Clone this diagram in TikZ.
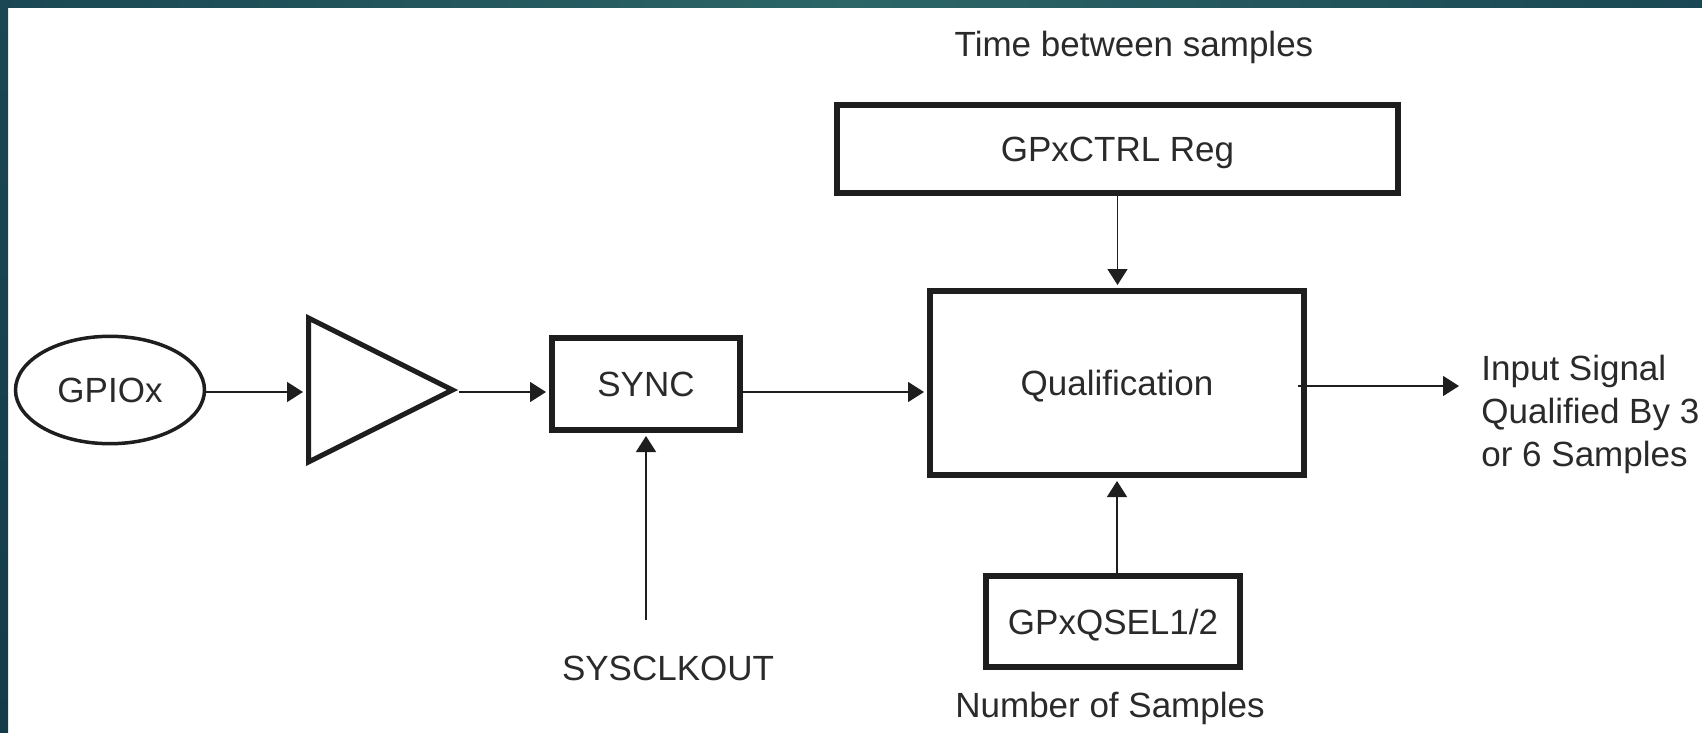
\documentclass[tikz,border=0pt]{standalone}
\usepackage{fontspec}
\setmainfont{Liberation Sans}
\usetikzlibrary{arrows.meta,shapes.geometric}
\definecolor{ink}{HTML}{1E1E1E}
\definecolor{txt}{HTML}{2A2A2A}
\definecolor{frameA}{HTML}{1A4753}
\definecolor{frameB}{HTML}{2C6667}
\definecolor{frameC}{HTML}{143B48}

\begin{document}
\begin{tikzpicture}[x=0.5pt,y=-0.5pt,
  font=\fontsize{17.5}{21.5}\selectfont,
  every node/.style={text=txt},
  blk/.style={draw=ink, line width=3pt, rectangle, inner sep=0pt,
              text height=12.5pt, text depth=0pt},
  sig/.style={draw=ink, line width=0.75pt, shorten >=1.5pt,
              -{Triangle[length=8pt,width=10pt]}},
  lbl/.style={inner sep=0pt, anchor=base}
]
% page and frame
\fill[white] (0,0) rectangle (1702,733);
\useasboundingbox (0,0) rectangle (1702,733);
\shade[left color=frameA, right color=frameA, middle color=frameB] (0,0) rectangle (1702,8);
\shade[top color=frameA, bottom color=frameC] (0,0) rectangle (8,733);

% blocks
\node[draw=ink, line width=1.75pt, ellipse, minimum width=94.5pt, minimum height=53.7pt,
      inner sep=0pt, text height=12.5pt, text depth=0pt] (gpio) at (110,390) {GPIOx};
\node[draw=ink, line width=2.5pt, isosceles triangle, isosceles triangle stretches,
      minimum width=72pt, minimum height=72pt, inner sep=0pt, anchor=west] (amp) at (306,390) {};
\node[blk, minimum width=94pt, minimum height=46pt] (sync) at (646,384) {SYNC};
\node[blk, minimum width=187pt, minimum height=92pt] (qual) at (1117,383) {Qualification};
\node[blk, minimum width=280.5pt, minimum height=44pt] (ctrl) at (1117.5,149) {GPxCTRL Reg};
\node[blk, minimum width=127pt, minimum height=45.5pt] (qsel) at (1113,621.5) {GPxQSEL1/2};

% labels
\node[lbl] (tbs) at (1134,57) {Time between samples};
\node[lbl] (nos) at (1110,717) {Number of Samples};
\node[lbl] (clk) at (668,680) {SYSCLKOUT};
\node[anchor=west, align=left, inner xsep=9.5pt, inner ysep=0pt] (out) at (1462,414)
  {Input Signal\\Qualified By 3\\or 6 Samples};

% signal path
\coordinate (bus) at (0,392);
\draw[sig] (gpio.east |- bus) -- (amp.west |- bus);
\draw[sig] (amp.east |- bus) -- (sync.west |- bus);
\draw[sig] (sync.east |- bus) -- (qual.west |- bus);
\coordinate (qout) at ([shift={(-4.5pt,-1.5pt)}]qual.east);
\draw[sig] (qout) -- (qout -| out.west);
\draw[sig] (ctrl.south) -- (ctrl.south |- qual.north);
\draw[sig] (qsel.north -| qual.south) -- (qual.south);
\coordinate (clkin) at (646,620);
\draw[sig] (clkin) -- (clkin |- sync.south);
\end{tikzpicture}
\end{document}
